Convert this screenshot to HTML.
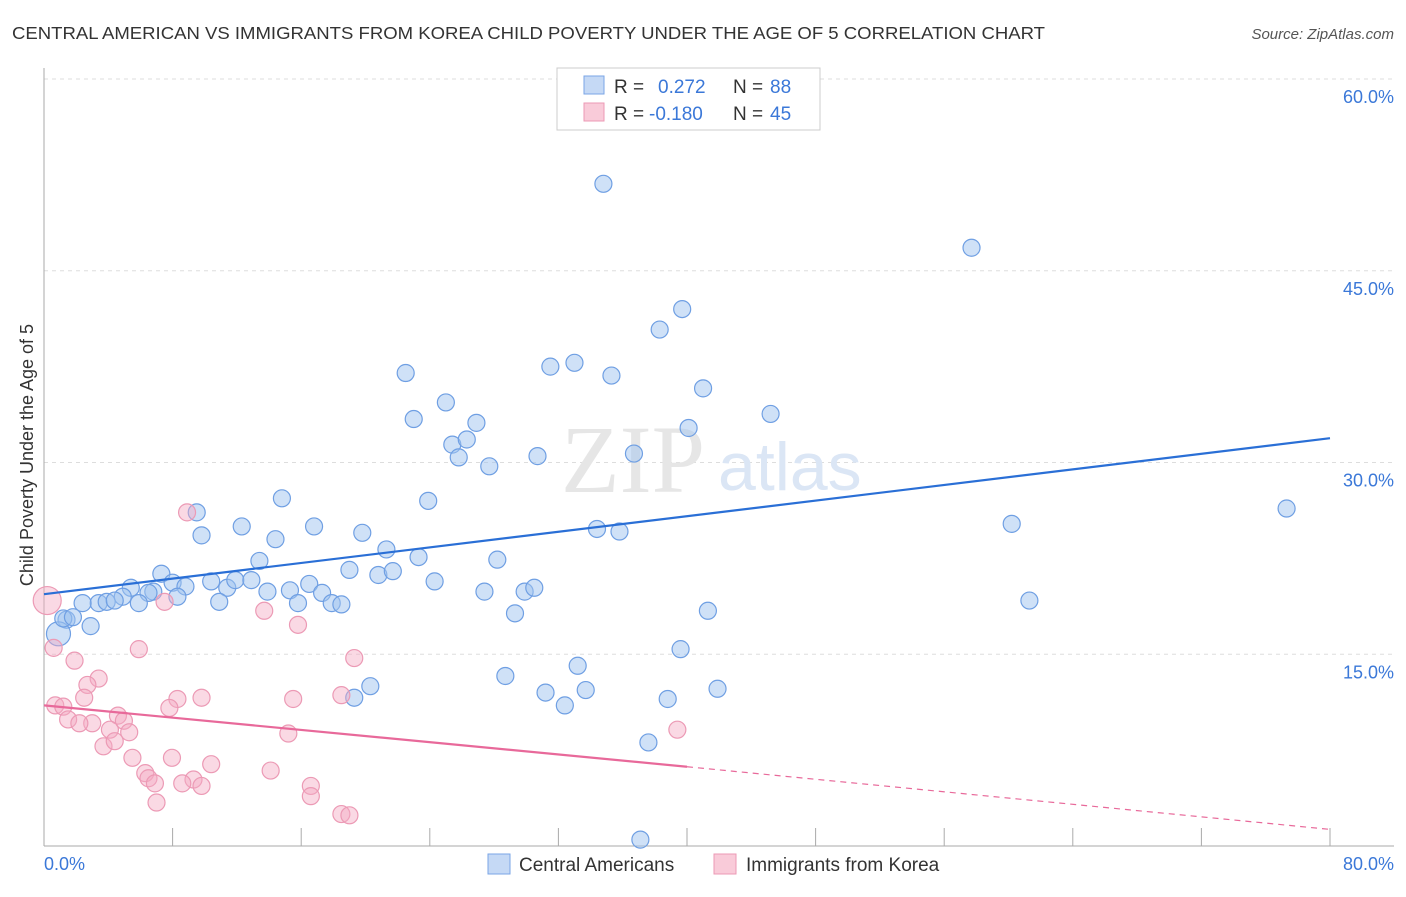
<!DOCTYPE html>
<html><head><meta charset="utf-8"><style>
body{margin:0;background:#fff;font-family:"Liberation Sans",sans-serif;overflow:hidden;}
</style></head><body>
<svg width="1406" height="892" xmlns="http://www.w3.org/2000/svg">
<text x="12" y="39" font-size="17.5" fill="#333" textLength="1033" lengthAdjust="spacingAndGlyphs">CENTRAL AMERICAN VS IMMIGRANTS FROM KOREA CHILD POVERTY UNDER THE AGE OF 5 CORRELATION CHART</text>
<text x="1394" y="39" font-size="15" fill="#555" font-style="italic" text-anchor="end">Source: ZipAtlas.com</text>
<g id="grid"></g>
<text x="705" y="492" font-size="96" font-family="Liberation Serif,serif" fill="#e6e6e6" text-anchor="end">ZIP</text>
<text x="718" y="490" font-size="68" fill="#dbe6f5">atlas</text>
<g id="pts"></g>
<g id="lines"></g>
<text x="33" y="455" font-size="18" fill="#333" text-anchor="middle" transform="rotate(-90 33 455)">Child Poverty Under the Age of 5</text>
<g>
<rect x="557" y="68" width="263" height="62" fill="#fff" stroke="#ccc"/>
<rect x="584" y="76" width="20" height="18" fill="#c5d9f5" stroke="#7aa5e6"/>
<text x="614" y="93" font-size="19" fill="#333">R =</text>
<text x="658" y="93" font-size="19" fill="#3b78d8">0.272</text>
<text x="733" y="93" font-size="19" fill="#333">N =</text>
<text x="770" y="93" font-size="19" fill="#3b78d8">88</text>
<rect x="584" y="103" width="20" height="18" fill="#f9cbd9" stroke="#ec9ab5"/>
<text x="614" y="120" font-size="19" fill="#333">R =</text>
<text x="649" y="120" font-size="19" fill="#3b78d8">-0.180</text>
<text x="733" y="120" font-size="19" fill="#333">N =</text>
<text x="770" y="120" font-size="19" fill="#3b78d8">45</text>
</g>
<g>
<rect x="488" y="854" width="22" height="20" fill="#c5d9f5" stroke="#7aa5e6"/>
<text x="519" y="871" font-size="19" fill="#333">Central Americans</text>
<rect x="714" y="854" width="22" height="20" fill="#f9cbd9" stroke="#ec9ab5"/>
<text x="746" y="871" font-size="19" fill="#333">Immigrants from Korea</text>
</g>
<text x="44" y="870" font-size="18" fill="#3b78d8">0.0%</text>
<text x="1394" y="870" font-size="18" fill="#3b78d8" text-anchor="end">80.0%</text>
</svg>
<script>
const yTicks=[15,30,45,60];
const xTicks=[0,8,16,24,32,40,48,56,64,72,80];
const blueX=[34.8,57.7,39.7,38.3,41.0,45.2,31.5,33.0,35.3,22.5,25.0,23.0,26.9,25.4,26.3,25.8,27.7,30.7,36.7,40.1,23.9,14.8,9.5,9.8,12.3,14.4,16.8,19.8,21.3,23.3,28.2,34.4,35.8,60.2,77.3,13.4,7.3,5.4,8.0,8.8,10.4,11.4,11.9,12.9,13.9,15.3,16.5,19.0,20.8,21.7,24.3,6.8,6.5,8.3,4.9,3.4,3.9,2.4,4.4,5.9,10.9,15.8,17.3,17.9,18.5,27.4,29.9,30.5,29.3,41.3,61.3,2.9,1.4,0.9,1.2,1.8,39.6,33.2,28.7,33.7,20.3,19.3,31.2,38.8,41.9,32.4,37.6,37.1];
const blueY=[51.8,46.8,42.0,40.4,35.8,33.8,37.5,37.8,36.8,37.0,34.7,33.4,33.1,31.4,31.8,30.4,29.7,30.5,30.7,32.7,27.0,27.2,26.1,24.3,25.0,24.0,25.0,24.5,23.2,22.6,22.4,24.8,24.6,25.2,26.4,22.3,21.3,20.2,20.6,20.3,20.7,20.2,20.8,20.8,19.9,20.0,20.5,21.6,21.2,21.5,20.7,19.9,19.8,19.5,19.5,19.0,19.1,19.0,19.2,19.0,19.1,19.0,19.8,19.0,18.9,19.9,19.9,20.2,18.2,18.4,19.2,17.2,17.7,16.6,17.8,17.9,15.4,14.1,13.3,12.2,12.5,11.6,12.0,11.5,12.3,11.0,8.1,0.5];
const pinkX=[8.9,0.2,7.5,13.7,15.8,5.9,0.6,1.9,19.3,3.4,2.7,2.5,0.7,1.2,8.3,9.8,15.5,18.5,7.8,4.6,1.5,3.0,4.97,2.2,4.1,5.3,15.2,3.7,4.4,5.5,7.96,39.4,10.4,14.1,6.3,6.5,6.9,9.3,8.6,9.8,16.6,16.6,7.0,18.5,19.0];
const pinkY=[26.1,19.2,19.1,18.4,17.3,15.4,15.5,14.5,14.7,13.1,12.6,11.6,11.0,10.9,11.5,11.6,11.5,11.8,10.8,10.2,9.9,9.6,9.8,9.6,9.1,8.9,8.8,7.8,8.2,6.9,6.9,9.1,6.4,5.9,5.7,5.3,4.9,5.2,4.9,4.7,4.7,3.9,3.4,2.5,2.4];
const NS="http://www.w3.org/2000/svg";
const x0=44,x1=1330,yb=846,yt=79;
function sx(v){return x0+(v/80)*(x1-x0);}
function sy(v){return yb-(v/60)*(yb-yt);}
function mk(t,a,p){const e=document.createElementNS(NS,t);for(const k in a)e.setAttribute(k,a[k]);p.appendChild(e);return e;}
const g=document.getElementById('grid');
yTicks.forEach(v=>{
 const l=mk('line',{x1:x0,x2:1394,y1:sy(v),y2:sy(v),stroke:'#ddd','stroke-dasharray':'4,4'},g);
 
 
 const t=mk('text',{x:1394,y:sy(v)+24,'font-size':18,fill:'#3b78d8','text-anchor':'end'},g);
 t.textContent=v.toFixed(1)+'%';
 
 
});
const ax=mk('line',{x1:x0,x2:x0,y1:68,y2:846,stroke:'#aaa'},g);


const bx=mk('line',{x1:x0,x2:1394,y1:846,y2:846,stroke:'#aaa'},g);


xTicks.forEach(v=>{
 const l=mk('line',{x1:sx(v),x2:sx(v),y1:828,y2:846,stroke:'#aaa'},g);
 
 
});
const p=document.getElementById('pts');
blueX.forEach((v,i)=>{
 const r=(i==73)?12:8.5;
 const c=mk('circle',{cx:sx(v),cy:sy(blueY[i]),r:r,fill:'rgba(160,195,240,0.5)',stroke:'#6f9fe3','stroke-width':1.2},p);
 
 
});
pinkX.forEach((v,i)=>{
 const r=(i==1)?14:8.5;
 const c=mk('circle',{cx:sx(v),cy:sy(pinkY[i]),r:r,fill:'rgba(245,170,195,0.45)',stroke:'#ec9ab5','stroke-width':1.2},p);
 
 
});
const L=document.getElementById('lines');
const bl=mk('line',{x1:sx(0),y1:sy(19.7),x2:sx(80),y2:sy(31.9),stroke:'#2a6fd6','stroke-width':2.2},L);


const pl=mk('line',{x1:sx(0),y1:sy(11.0),x2:sx(40),y2:sy(6.2),stroke:'#e8699a','stroke-width':2.2},L);


const pd=mk('line',{x1:sx(40),y1:sy(6.2),x2:sx(80),y2:sy(1.3),stroke:'#e8699a','stroke-width':1.2,'stroke-dasharray':'6,5'},L);


</script>
</body></html>
